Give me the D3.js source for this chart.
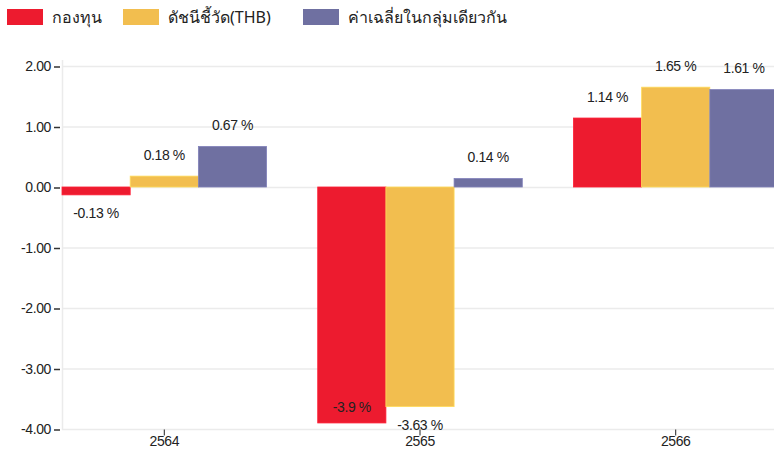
<!DOCTYPE html>
<html>
<head>
<meta charset="utf-8">
<script src="https://cdn.jsdelivr.net/npm/d3@7"></script>
<style>
	body { margin: 0; background: #fff; }
	svg { display: block; font-family: "Liberation Sans", Arial, sans-serif; }
</style>
</head>
<body>
<svg id="chart" width="774" height="454"></svg>
<script>
// chart data
var years = ["2564", "2565", "2566"];
var seriesNames = ["กองทุน", "ดัชนีชี้วัด(THB)", "ค่าเฉลี่ยในกลุ่มเดียวกัน"];
var seriesColors = ["#ED1B2F", "#F2BE4F", "#6F70A1"];
var fundValues = [-0.13, -3.9, 1.14];
var benchValues = [0.18, -3.63, 1.65];
var peerValues = [0.67, 0.14, 1.61];
var yTicks = [2, 1, 0, -1, -2, -3, -4];

var allSeries = [fundValues, benchValues, peerValues];

var svg = d3.select("#chart");
var plotLeft = 62, plotRight = 778, plotTop = 66, plotBottom = 429;

var x = d3.scaleBand().domain(years).range([plotLeft, plotRight]).paddingInner(0.2).paddingOuter(0);
var xs = d3.scaleBand().domain(d3.range(3)).range([0, x.bandwidth()]);
var y = d3.scaleLinear().domain([-4, 2]).range([plotBottom, plotTop]);

// grid lines
svg.append("g").selectAll("line").data(yTicks).enter().append("line")
	.attr("x1", plotLeft).attr("x2", 774)
	.attr("y1", function (d) { return y(d) + 0.5; })
	.attr("y2", function (d) { return y(d) + 0.5; })
	.attr("stroke", "#ebebeb").attr("stroke-width", 1.5);

// vertical axis line
svg.append("line")
	.attr("x1", plotLeft + 0.5).attr("x2", plotLeft + 0.5)
	.attr("y1", plotTop - 6).attr("y2", plotBottom + 1)
	.attr("stroke", "#ebebeb").attr("stroke-width", 1.5);

// y axis
var yAxis = svg.append("g")
	.attr("transform", "translate(" + (plotLeft - 2) + ",0.5)")
	.call(d3.axisLeft(y).tickValues(yTicks).tickFormat(function (d) { return d.toFixed(2); }).tickSize(6).tickPadding(3));
yAxis.select(".domain").remove();
yAxis.selectAll(".tick line").attr("stroke", "#333").attr("stroke-width", 1.5);
yAxis.selectAll("text").attr("font-size", "14px").attr("letter-spacing", "-0.4px").attr("fill", "#222").attr("font-family", "Liberation Sans, Arial, sans-serif");

// x axis
var xAxis = svg.append("g")
	.attr("transform", "translate(0," + (plotBottom + 0.5) + ")")
	.call(d3.axisBottom(x).tickSize(6).tickPadding(1));
xAxis.select(".domain").remove();
xAxis.selectAll(".tick line").attr("stroke", "#222");
xAxis.selectAll("text").attr("font-size", "14px").attr("letter-spacing", "-0.4px").attr("fill", "#222").attr("font-family", "Liberation Sans, Arial, sans-serif");

// bars
allSeries.forEach(function (vals, si) {
	var g = svg.append("g");
	g.selectAll("rect").data(vals).enter().append("rect")
		.attr("x", function (d, i) { return x(years[i]) + xs(si); })
		.attr("width", xs.bandwidth())
		.attr("y", function (d) { return y(Math.max(0, d)); })
		.attr("height", function (d) { return Math.abs(y(d) - y(0)); })
		.attr("fill", seriesColors[si])
		.attr("stroke", d3.color(seriesColors[si]).brighter(0.4))
		.attr("stroke-width", 0.8);

	g.selectAll("text").data(vals).enter().append("text")
		.attr("x", function (d, i) { return x(years[i]) + xs(si) + xs.bandwidth() / 2; })
		.attr("y", function (d) {
			if (d >= 0) return y(d) - 21;
			var below = y(d) + 18;
			if (below > plotBottom - 4) return y(d) - 16;
			return below;
		})
		.attr("dy", "0.35em")
		.attr("text-anchor", "middle")
		.attr("font-size", "14px")
		.attr("letter-spacing", "-0.4px")
		.attr("fill", "#222")
		.text(function (d) { return d + " %"; });
});

// legend
var legend = svg.append("g");
var legendX = [7, 123, 303];
seriesNames.forEach(function (name, i) {
	legend.append("rect")
		.attr("x", legendX[i]).attr("y", 9)
		.attr("width", 36).attr("height", 16)
		.attr("fill", seriesColors[i]);
	legend.append("text")
		.attr("x", legendX[i] + 45).attr("y", 17)
		.attr("dy", "0.35em")
		.attr("font-size", "16px")
		.attr("fill", "#222")
		.attr("font-family", "Noto Sans, sans-serif")
		.text(name);
});
</script>
</body>
</html>
